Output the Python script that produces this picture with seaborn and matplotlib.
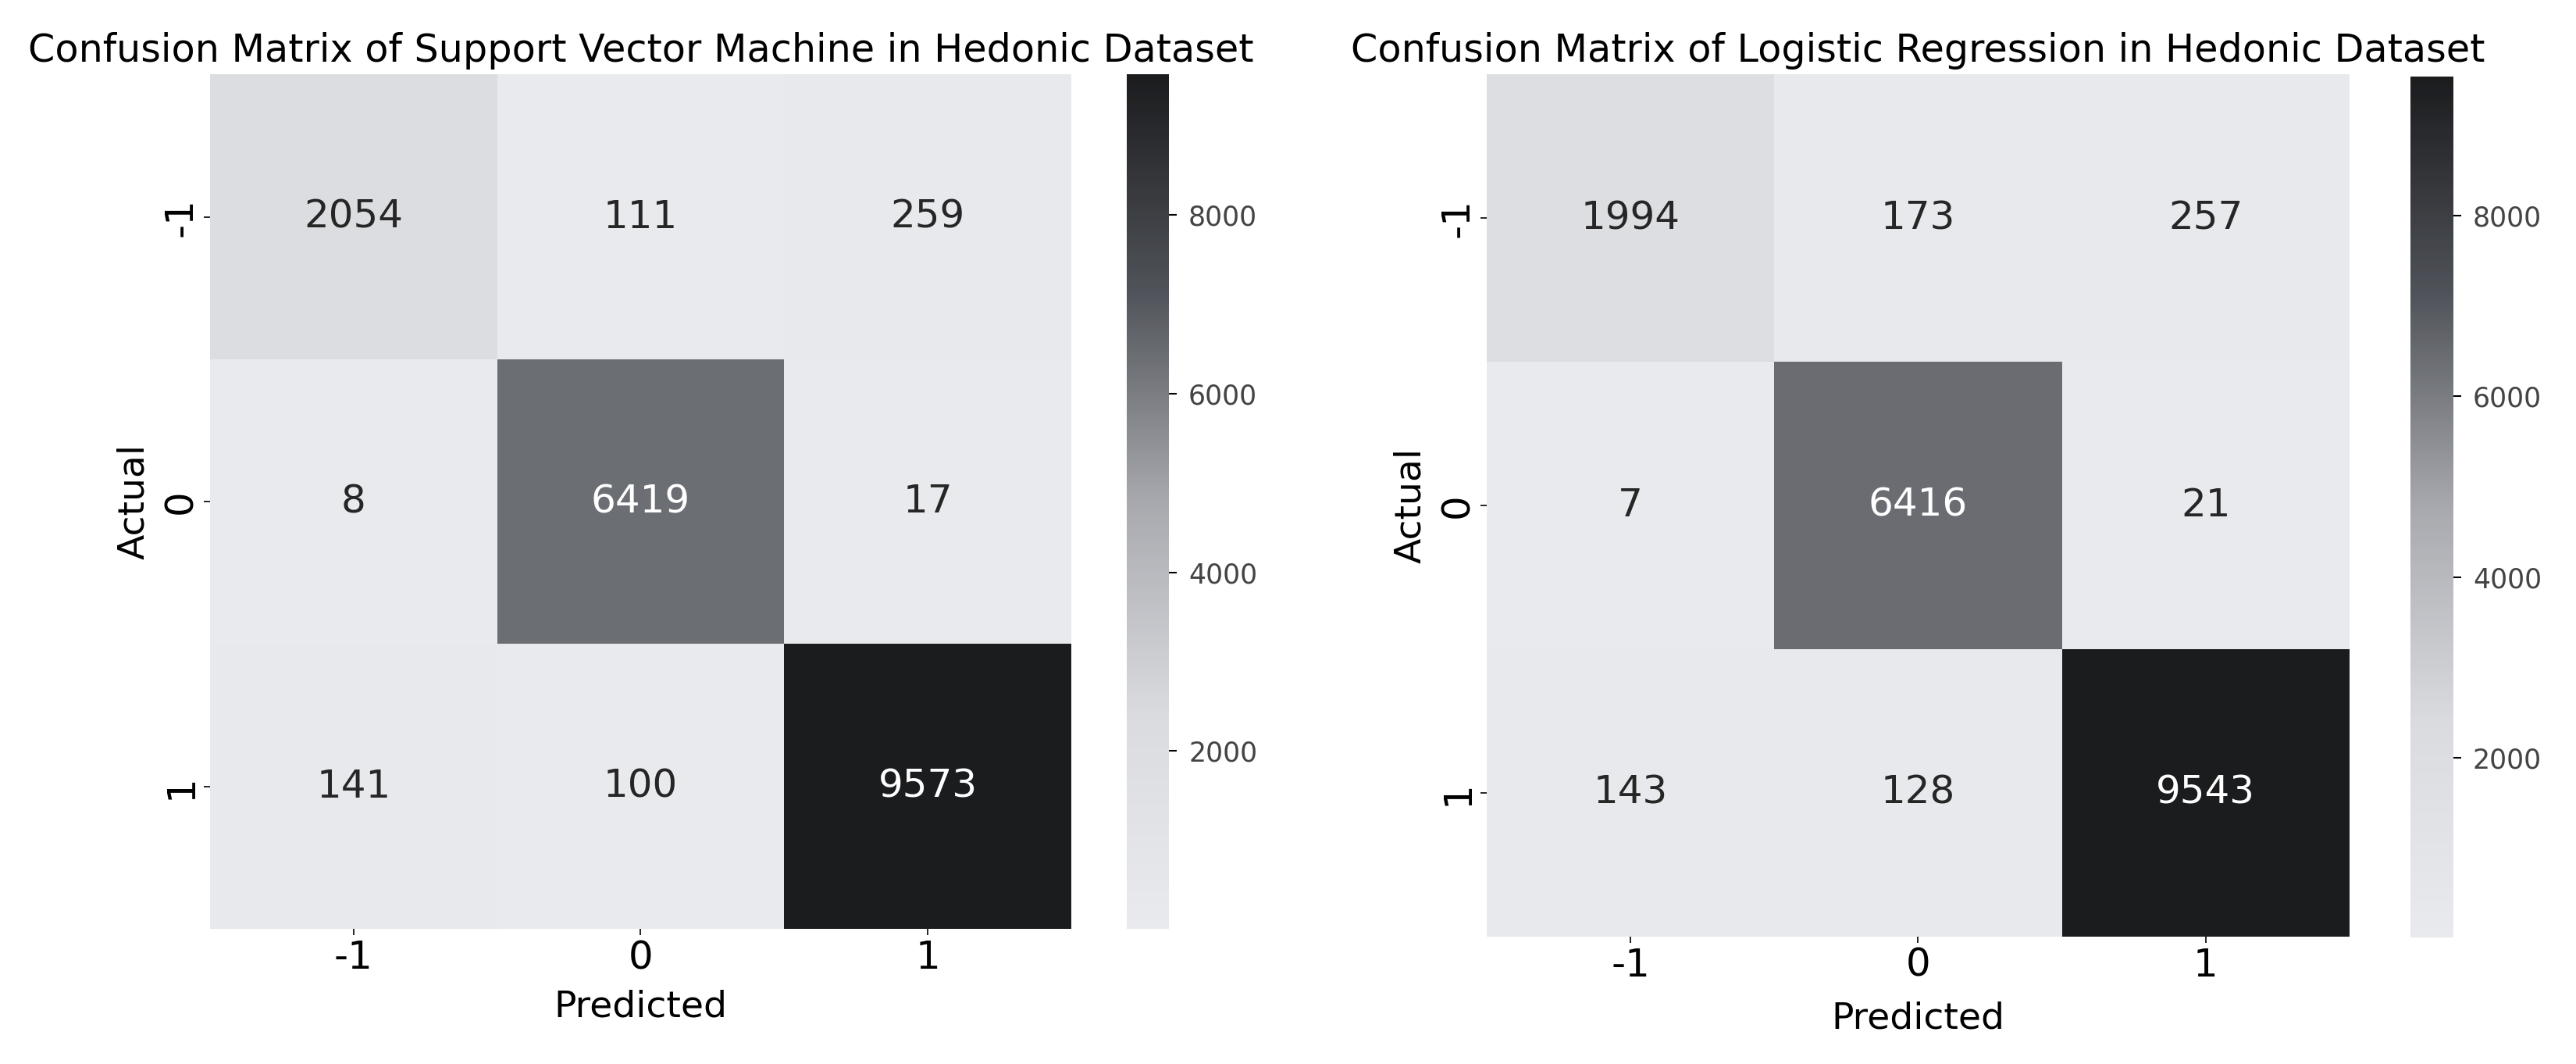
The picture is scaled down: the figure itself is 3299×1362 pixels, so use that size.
import numpy as np
import pandas as pd
import matplotlib.pyplot as plt
import seaborn as sns

class_labels = [-1, 0, 1]
svm_counts = [[2054, 111, 259],
              [8, 6419, 17],
              [141, 100, 9573]]
lr_counts = [[1994, 173, 257],
             [7, 6416, 21],
             [143, 128, 9543]]

titles = ["Confusion Matrix of Support Vector Machine in Hedonic Dataset",
          "Confusion Matrix of Logistic Regression in Hedonic Dataset"]

cmap = sns.blend_palette(["#e9eaee", "#dadbdf", "#a7a9ae", "#4f5258", "#1b1c1e"], as_cmap=True)

fig = plt.figure(figsize=(32.99, 13.62), dpi=100)

boxes = [([0.0815, 0.127, 0.3344, 0.803], [0.4374, 0.127, 0.0164, 0.803], 12),
         ([0.5771, 0.120, 0.3350, 0.810], [0.9357, 0.119, 0.0167, 0.809], 16)]

for counts, title, (hm_box, cb_box, xpad) in zip([svm_counts, lr_counts], titles, boxes):
    ax = fig.add_axes(hm_box)
    cax = fig.add_axes(cb_box)
    df = pd.DataFrame(counts, index=class_labels, columns=class_labels)
    sns.heatmap(df, annot=True, fmt="d", cmap=cmap, ax=ax, cbar_ax=cax,
                annot_kws={"size": 36})
    ax.set_title(title, fontsize=35.5, pad=12)
    ax.set_xlabel("Predicted", fontsize=34, labelpad=xpad)
    ax.set_ylabel("Actual", fontsize=34, labelpad=10)
    ax.tick_params(axis="both", labelsize=36, length=6, width=1.2)
    ax.tick_params(axis="y", labelrotation=90)
    cax.tick_params(labelsize=25, length=7, width=1.5, pad=11, labelcolor="#444444")

fig.savefig("out.png", dpi=100)
